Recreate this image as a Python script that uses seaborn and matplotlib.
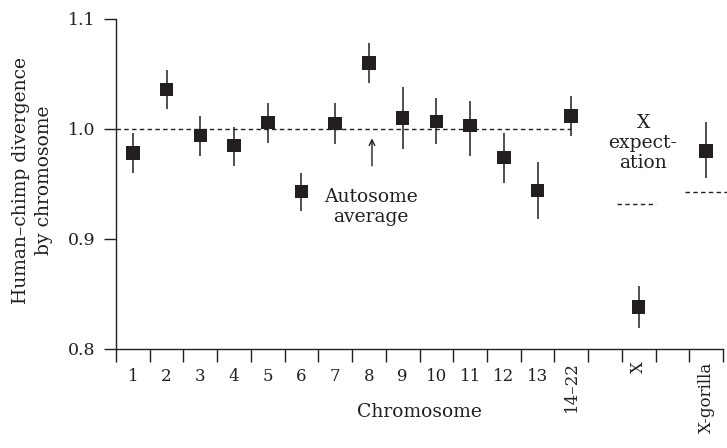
import numpy as np
import pandas as pd
import seaborn as sns
import matplotlib.pyplot as plt

# categories along the x axis (blank slots are gaps in the original figure)
categories = ["1", "2", "3", "4", "5", "6", "7", "8", "9", "10", "11", "12", "13",
              "14\u201322", "", "X", "", "X-gorilla"]
divergence = [0.978, 1.036, 0.994, 0.985, 1.006, 0.943, 1.005, 1.060, 1.010, 1.007,
              1.003, 0.974, 0.944, 1.012, np.nan, 0.838, np.nan, 0.980]
err_low = [0.960, 1.018, 0.975, 0.966, 0.987, 0.925, 0.986, 1.042, 0.982, 0.986,
           0.975, 0.951, 0.918, 0.994, np.nan, 0.819, np.nan, 0.955]
err_high = [0.996, 1.054, 1.012, 1.002, 1.024, 0.960, 1.024, 1.078, 1.038, 1.028,
            1.025, 0.996, 0.970, 1.030, np.nan, 0.857, np.nan, 1.006]
autosome_avg = 1.0
x_expectation = {"X": 0.932, "X-gorilla": 0.943}
rotated = ["14\u201322", "X", "X-gorilla"]

ink = "#231f20"
sns.set_style("ticks")
plt.rcParams['font.family'] = ['DejaVu Serif']
plt.rcParams['text.color'] = ink
plt.rcParams['axes.labelcolor'] = ink
plt.rcParams['xtick.color'] = ink
plt.rcParams['ytick.color'] = ink

df = pd.DataFrame({"pos": np.arange(len(categories)), "label": categories,
                   "div": divergence, "lo": err_low, "hi": err_high}).dropna()

fig = plt.figure(figsize=(7.27, 4.48), dpi=100)
ax = fig.add_axes([0.1596, 0.221, 0.8349, 0.7366])

# error bars and square markers
ax.vlines(df["pos"], df["lo"], df["hi"], color=ink, lw=1.1, zorder=2)
sns.scatterplot(data=df, x="pos", y="div", marker="s", s=95, color=ink,
                edgecolor="none", ax=ax, zorder=3)

# autosome average line, up to the 14-22 group
last_auto = categories.index("14\u201322")
ax.plot([-0.5, last_auto], [autosome_avg, autosome_avg], ls=(0, (3.2, 2.4)),
        lw=1, color=ink, zorder=1)
# X expectation lines
for name, val in x_expectation.items():
    p = categories.index(name)
    lo, hi = (-0.63, 0.5) if name == "X" else (-0.62, 0.62)
    ax.plot([p + lo, p + hi], [val, val], ls=(0, (3.2, 2.4)), lw=1, color=ink,
            clip_on=False)

ax.annotate("", xy=(7.09, 0.994), xytext=(7.09, 0.964),
            arrowprops=dict(arrowstyle="->", color=ink, lw=1))
ax.text(7.06, 0.929, "Autosome\naverage", ha="center", va="center",
        fontsize=13.5, linespacing=1.15)
ax.text(15.13, 0.987, "X\nexpect-\nation", ha="center", va="center",
        fontsize=13.5, linespacing=1.15)

ax.set_xlim(-0.5, len(categories) - 0.5)
ax.set_ylim(0.8, 1.1)
ax.set_yticks([0.8, 0.9, 1.0, 1.1])
ax.set_yticklabels(["0.8", "0.9", "1.0", "1.1"], fontsize=12.5)
ax.set_xticks(np.arange(len(categories)))
ax.set_xticklabels(categories, fontsize=12)
ax.set_xticks(np.arange(len(categories) + 1) - 0.5, minor=True)
ax.tick_params(axis="x", which="major", length=0, pad=14)
ax.tick_params(axis="x", which="minor", length=9, width=1)
ax.tick_params(axis="y", length=9, width=1, pad=6)
for tick, lbl in zip(ax.xaxis.get_major_ticks(), categories):
    if lbl in rotated:
        tick.label1.set_rotation(90)
        tick.label1.set_va("top")
        tick.set_pad(9)

ax.set_xlabel("Chromosome", fontsize=13.5)
ax.xaxis.set_label_coords(0.5, -0.191)
ax.xaxis.label.set_va("center")
ax.set_ylabel("Human\u2013chimp divergence\nby chromosome", fontsize=13.5,
              linespacing=1.35)
ax.yaxis.set_label_coords(-0.137, 0.51)
ax.yaxis.label.set_va("center")
ax.spines["top"].set_visible(False)
ax.spines["right"].set_visible(False)
for s in ("left", "bottom"):
    ax.spines[s].set_linewidth(1)
    ax.spines[s].set_color(ink)

fig.savefig("out.png", dpi=100)
